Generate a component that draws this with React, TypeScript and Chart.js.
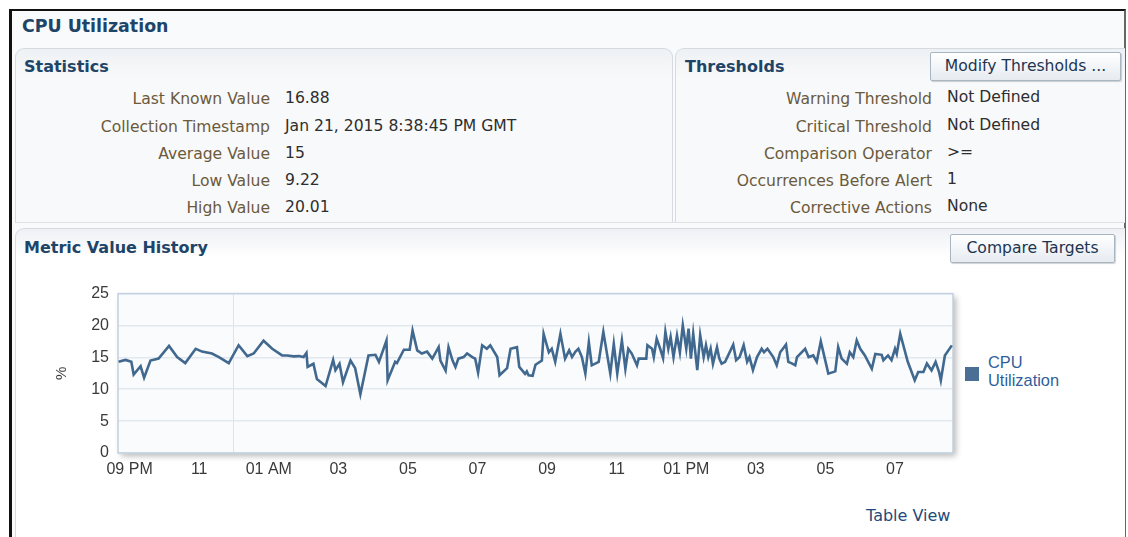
import React, { useEffect, useRef } from 'react';
import { Chart, registerables } from 'chart.js';

Chart.register(...registerables);

// minutes after 08:40 PM (Jan 20, 2015)
const minutes = [
  1, 13, 23, 27, 39, 45, 56, 70, 88, 102, 116, 134, 145, 162, 174, 191, 208, 223, 234, 251, 266, 283,
  292, 303, 312, 320, 325, 327, 337, 343, 358, 371, 375, 382, 388, 401, 409, 418, 432, 444, 450, 463, 465,
  478, 481, 493, 503, 508, 516, 524, 533, 542, 553, 556,
  565, 570, 577, 582, 587, 596, 602, 611, 616, 621, 628, 636, 642, 654, 658, 671, 677, 688, 692, 702, 705,
  708, 715, 720, 731, 734, 743, 748, 754, 763, 771, 778, 783, 789, 794, 800, 806, 812, 817, 829, 837, 849, 855,
  861, 869, 875, 880, 886, 895, 898, 911, 913, 921, 924, 929, 935, 940, 944, 949, 953, 958, 964, 969, 974,
  980, 984, 988, 992, 999, 1004, 1010, 1014, 1018, 1022, 1026, 1033, 1037, 1041, 1047, 1061, 1066, 1072,
  1079, 1085, 1089, 1095, 1102, 1110, 1114, 1120, 1130, 1136, 1142,
  1152, 1156, 1162, 1168, 1171, 1185, 1191, 1199, 1205, 1212, 1225, 1237, 1242, 1248, 1257, 1262, 1268,
  1274, 1280, 1288, 1300, 1306, 1317, 1320, 1328, 1334, 1340, 1343, 1349, 1362, 1374, 1380, 1389, 1395,
  1403, 1410, 1416, 1419, 1426, 1438,
];

const cpuValues = [
  14.3, 14.6, 14.3, 12.3, 13.6, 11.8, 14.5, 14.8, 16.8, 15.05, 14.1, 16.35, 15.9, 15.6, 15.05, 14.1, 16.9, 15.2, 15.6, 17.6, 16.35, 15.3,
  15.3, 15.15, 15.2, 15.05, 15.7, 13.5, 14.0, 11.6, 10.5, 14.6, 13.0, 14.0, 11.1, 14.5, 13.3, 9.22, 15.3, 15.4, 14.3, 17.65, 11.4,
  14.3, 14.1, 16.2, 16.2, 19.2, 16.1, 15.6, 15.9, 14.8, 16.6, 14.5,
  12.9, 16.6, 14.5, 13.5, 14.8, 15.05, 15.6, 15.05, 14.8, 12.6, 16.9, 16.35, 16.9, 15.05, 12.2, 13.3, 16.35, 16.6, 13.5, 12.4, 12.8,
  12.2, 12.1, 13.85, 14.5, 18.7, 15.8, 16.35, 14.3, 18.7, 14.8, 16.1, 15.05, 15.9, 16.35, 15.05, 12.45, 17.4, 13.75, 14.3, 19.0, 12.45, 17.1,
  12.45, 17.65, 13.2, 16.35, 15.6, 13.75, 14.8, 14.8, 16.9, 16.35, 15.05, 17.9, 16.35, 14.9, 19.0, 16.35, 18.2, 15.05, 18.45, 15.8, 20.01,
  16.35, 19.5, 14.8, 18.7, 13.0, 18.45, 15.05, 16.9, 15.05, 16.35, 14.0, 16.6, 14.8, 14.0, 14.3, 17.0, 14.55, 15.05,
  16.9, 14.3, 15.05, 13.0, 15.05, 16.35, 15.8, 16.35, 15.05, 13.75, 15.8,
  17.0, 14.3, 14.05, 13.75, 15.05, 16.35, 15.05, 15.3, 14.3, 17.5, 12.45, 12.8, 16.6, 14.8, 14.0, 15.8, 15.05,
  17.65, 16.35, 15.3, 13.2, 15.55, 15.4, 14.55, 15.3, 14.55, 16.35, 15.55, 18.7, 14.3, 11.4, 12.7, 12.7, 14.05,
  12.96, 14.3, 12.7, 11.4, 15.3, 16.88,
];

const xTickMinutes = [20, 140, 260, 380, 500, 620, 740, 860, 980, 1100, 1220, 1340];
const xTickLabels = ['09 PM', '11', '01 AM', '03', '05', '07', '09', '11', '01 PM', '03', '05', '07'];
const midnightMinute = 200;
const xMin = 0;
const xMax = 1440;

const statLabels = ['Last Known Value', 'Collection Timestamp', 'Average Value', 'Low Value', 'High Value'];
const statValues = ['16.88', 'Jan 21, 2015 8:38:45 PM GMT', '15', '9.22', '20.01'];
const thresholdLabels = ['Warning Threshold', 'Critical Threshold', 'Comparison Operator', 'Occurrences Before Alert', 'Corrective Actions'];
const thresholdValues = ['Not Defined', 'Not Defined', '>=', '1', 'None'];
const rowCenters = [100, 128, 155, 182, 209];

const UI_FONT = '"DejaVu Sans", Tahoma, Verdana, sans-serif';
const CHART_FONT = '"Liberation Sans", Arial, sans-serif';
const HEAD_COLOR = '#1e4468';
const LABEL_COLOR = '#6b5a3c';
const VALUE_COLOR = '#2e2e2e';
const TEXT_SIZE = '15.6px';

const plotDecor = {
  id: 'plotDecor',
  beforeDraw(chart: any) {
    const { ctx, chartArea: a } = chart;
    ctx.save();
    ctx.shadowColor = 'rgba(0,0,0,0.28)';
    ctx.shadowBlur = 6;
    ctx.shadowOffsetX = 3;
    ctx.shadowOffsetY = 3;
    ctx.fillStyle = '#fafbfd';
    ctx.fillRect(a.left, a.top, a.right - a.left, a.bottom - a.top);
    ctx.restore();
  },
  beforeDatasetsDraw(chart: any) {
    const { ctx, chartArea: a } = chart;
    ctx.save();
    ctx.strokeStyle = '#c3d1e1';
    ctx.lineWidth = 1.5;
    ctx.strokeRect(a.left, a.top, a.right - a.left, a.bottom - a.top);
    ctx.restore();
  },
};

function MetricChart() {
  const ref = useRef<HTMLCanvasElement | null>(null);
  useEffect(() => {
    if (!ref.current) return;
    const points = minutes.map((m, i) => ({ x: m, y: cpuValues[i] }));
    const chart = new Chart(ref.current, {
      type: 'line',
      data: {
        datasets: [
          {
            label: 'CPU Utilization',
            data: points,
            borderColor: '#41688e',
            borderWidth: 2.6,
            pointRadius: 0,
            tension: 0,
            fill: false,
          },
        ],
      },
      options: {
        animation: false,
        responsive: false,
        devicePixelRatio: 1,
        layout: { padding: { top: 18, right: 12, left: 0, bottom: 0 } },
        plugins: { legend: { display: false }, tooltip: { enabled: false } },
        scales: {
          x: {
            type: 'linear',
            min: xMin,
            max: xMax,
            afterBuildTicks: (scale: any) => {
              scale.ticks = [...xTickMinutes, midnightMinute].sort((p, q) => p - q).map((v) => ({ value: v }));
            },
            afterFit: (scale: any) => {
              scale.height = 37;
            },
            ticks: {
              autoSkip: false,
              maxRotation: 0,
              padding: 7,
              color: '#3a3a3a',
              font: { family: CHART_FONT, size: 16 },
              callback: (v: any) => {
                const i = xTickMinutes.indexOf(Number(v));
                return i >= 0 ? xTickLabels[i] : '';
              },
            },
            grid: {
              drawTicks: false,
              color: (c: any) => (c.tick && c.tick.value === midnightMinute ? '#dbe3ec' : 'rgba(0,0,0,0)'),
              lineWidth: 1,
            },
            border: { display: false },
          },
          y: {
            min: 0,
            max: 25,
            afterFit: (scale: any) => {
              scale.width = 98;
            },
            ticks: {
              stepSize: 5,
              padding: 9,
              color: '#3a3a3a',
              font: { family: CHART_FONT, size: 16 },
            },
            grid: { drawTicks: false, color: '#e2e8f0', lineWidth: 1.5 },
            border: { display: false },
            title: {
              display: true,
              text: '%',
              color: '#3a3a3a',
              font: { family: CHART_FONT, size: 15 },
              padding: { top: 33, bottom: 0 },
            },
          },
        },
      },
      plugins: [plotDecor],
    });
    return () => chart.destroy();
  }, []);
  return (
    <canvas
      ref={ref}
      width={945}
      height={215}
      style={{ position: 'absolute', left: 20, top: 275, width: 945, height: 215 }}
    />
  );
}

const abs = (s: any): any => ({ position: 'absolute', ...s });

function Button({ x, y, w, h, text }: any) {
  return (
    <div
      style={abs({
        left: x,
        top: y,
        width: w,
        height: h,
        boxSizing: 'border-box',
        border: '1px solid #a8b6c4',
        borderRadius: 2,
        background: 'linear-gradient(#ffffff, #e6ebf1)',
        boxShadow: '1px 1px 1px rgba(0,0,0,0.18)',
        color: '#1d3550',
        font: `${TEXT_SIZE} ${UI_FONT}`,
        lineHeight: `${h - 2}px`,
        textAlign: 'center',
        whiteSpace: 'nowrap',
      })}
    >
      {text}
    </div>
  );
}

export default function App() {
  useEffect(() => {
    document.body.style.margin = '0';
  }, []);
  const txt = (color: string) => ({ font: `${TEXT_SIZE} ${UI_FONT}`, color, lineHeight: '20px', whiteSpace: 'nowrap' });
  return (
    <div style={abs({ left: 0, top: 0, width: 1128, height: 537, overflow: 'hidden', background: '#ffffff', fontFamily: UI_FONT })}>
      {/* frame */}
      <div style={abs({ left: 9, top: 9, width: 1117, height: 540, background: '#f9fafb', borderTop: '2px solid #111', borderLeft: '3px solid #111', borderRight: '2px solid #666', boxSizing: 'border-box' })} />
      <div style={abs({ left: 22, top: 14, font: `bold 17.4px ${UI_FONT}`, color: HEAD_COLOR, lineHeight: '24px', whiteSpace: 'nowrap' })}>CPU Utilization</div>

      {/* statistics panel */}
      <div style={abs({ left: 15, top: 48, width: 658, height: 175, boxSizing: 'border-box', border: '1px solid #d5dbe1', borderBottom: 'none', borderRadius: '9px 9px 0 0', background: 'linear-gradient(#eef1f4 0px, #f8f9fa 30px, #f8f9fa 100%)' })} />
      <div style={abs({ left: 675, top: 48, width: 450, height: 175, boxSizing: 'border-box', border: '1px solid #d5dbe1', borderBottom: 'none', borderRight: 'none', borderRadius: '9px 0 0 0', background: 'linear-gradient(#eef1f4 0px, #f8f9fa 30px, #f8f9fa 100%)' })} />
      <div style={abs({ left: 15, top: 222, width: 1110, height: 1, background: '#dde2e7' })} />
      <div style={abs({ left: 24, top: 56, font: `bold 16px ${UI_FONT}`, color: HEAD_COLOR, lineHeight: '22px' })}>Statistics</div>
      <div style={abs({ left: 685, top: 56, font: `bold 16px ${UI_FONT}`, color: HEAD_COLOR, lineHeight: '22px' })}>Thresholds</div>
      <Button x={930} y={52} w={191} h={29} text="Modify Thresholds ..." />

      {statLabels.map((t, i) => (
        <div key={'sl' + i} style={abs({ right: 1128 - 270, top: rowCenters[i] - 11, ...txt(LABEL_COLOR) })}>{t}</div>
      ))}
      {statValues.map((t, i) => (
        <div key={'sv' + i} style={abs({ left: 285, top: rowCenters[i] - 12, ...txt(VALUE_COLOR) })}>{t}</div>
      ))}
      {thresholdLabels.map((t, i) => (
        <div key={'tl' + i} style={abs({ right: 1128 - 932, top: rowCenters[i] - 11, ...txt(LABEL_COLOR) })}>{t}</div>
      ))}
      {thresholdValues.map((t, i) => (
        <div key={'tv' + i} style={abs({ left: 947, top: rowCenters[i] - 13, ...txt(VALUE_COLOR) })}>{t}</div>
      ))}

      {/* metric value history panel */}
      <div style={abs({ left: 15, top: 228, width: 1110, height: 320, boxSizing: 'border-box', border: '1px solid #d5dbe1', borderRight: 'none', borderRadius: '9px 0 0 0', background: 'linear-gradient(#eef1f4 0px, #ffffff 28px, #ffffff 100%)' })} />
      <div style={abs({ left: 24, top: 237, font: `bold 16px ${UI_FONT}`, color: HEAD_COLOR, lineHeight: '22px' })}>Metric Value History</div>
      <Button x={950} y={234} w={165} h={29} text="Compare Targets" />

      <MetricChart />

      {/* legend */}
      <div style={abs({ left: 965, top: 367, width: 14, height: 14, background: '#4a6e94' })} />
      <div style={abs({ left: 988, top: 353, font: `16.4px ${CHART_FONT}`, color: '#2f5f9a', lineHeight: '18px' })}>
        CPU<br />Utilization
      </div>

      <div style={abs({ left: 866, top: 506, font: `16px ${UI_FONT}`, color: '#1f4a7c', lineHeight: '20px', whiteSpace: 'nowrap' })}>Table View</div>
    </div>
  );
}
